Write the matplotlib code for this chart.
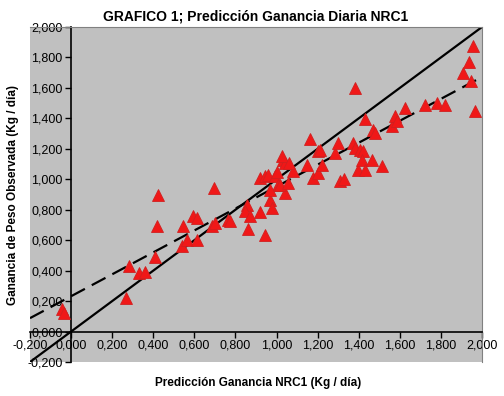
import matplotlib
matplotlib.use("Agg")
import matplotlib.pyplot as plt
import numpy as np
from matplotlib.ticker import FuncFormatter, MultipleLocator

plt.rcParams['font.family'] = ['Liberation Sans', 'DejaVu Sans']

title = "GRAFICO 1; Predicción Ganancia Diaria NRC1"
xlabel = "Predicción Ganancia NRC1 (Kg / día)"
ylabel = "Ganancia de Peso Observada (Kg / día)"

pred = [-0.045, -0.035, 0.268, 0.284, 0.332, 0.36, 0.409, 0.425, 0.417, 0.547,
        0.539, 0.563, 0.595, 0.612, 0.612, 0.696, 0.685, 0.70, 0.765, 0.774,
        0.855, 0.847, 0.871, 0.863, 0.92, 0.944, 0.968, 0.977, 0.92, 0.944,
        0.96, 0.993, 1.007, 0.968, 1.041, 1.033, 1.041, 1.025, 1.017, 1.057,
        1.082, 1.147, 1.179, 1.204, 1.22, 1.204, 1.163, 1.212, 1.285, 1.30,
        1.31, 1.33, 1.374, 1.382, 1.406, 1.423, 1.398, 1.414, 1.464, 1.512,
        1.431, 1.382, 1.431, 1.471, 1.48, 1.56, 1.577, 1.585, 1.625, 1.723,
        1.78, 1.82, 1.909, 1.945, 1.958, 1.937, 1.966, 1.00, 1.06]
obs = [0.145, 0.12, 0.22, 0.433, 0.385, 0.39, 0.49, 0.895, 0.696, 0.696,
       0.565, 0.604, 0.762, 0.747, 0.598, 0.944, 0.69, 0.71, 0.735, 0.724,
       0.834, 0.79, 0.757, 0.674, 0.783, 0.637, 0.867, 0.812, 1.01, 1.02,
       1.031, 1.02, 0.965, 0.932, 0.91, 1.129, 1.108, 1.151, 0.965, 0.976,
       1.052, 1.096, 1.009, 1.042, 1.096, 1.184, 1.265, 1.195, 1.173, 1.239,
       0.99, 1.0, 1.239, 1.206, 1.195, 1.184, 1.064, 1.129, 1.129, 1.085,
       1.064, 1.6, 1.397, 1.326, 1.305, 1.348, 1.414, 1.381, 1.469, 1.49,
       1.5, 1.49, 1.699, 1.643, 1.873, 1.768, 1.446, 1.05, 1.11]

line_x = [-0.2, 2.0]
identity_y = [-0.2, 2.0]
fit_intercept = 0.232
fit_slope = 0.72
fit_y = [fit_intercept + fit_slope * v for v in line_x]

fig = plt.figure(figsize=(5.04, 3.96), dpi=100)
ax = fig.add_axes([30/504, 1 - 362/396, 452/504, 335/396])
ax.set_facecolor('#c0c0c0')

ax.plot(line_x, identity_y, color='black', lw=1.6, zorder=2)
ax.plot(line_x, fit_y, color='black', lw=1.6, dashes=(7, 3.5), zorder=2)
ax.plot(pred, obs, linestyle='none', marker='^', markersize=8.5,
        markerfacecolor='#f01818', markeredgecolor='#d02020', markeredgewidth=0.6, zorder=3)

ax.set_xlim(-0.2, 2.0)
ax.set_ylim(-0.2, 2.0)
ax.xaxis.set_major_locator(MultipleLocator(0.2))
ax.yaxis.set_major_locator(MultipleLocator(0.2))
fmt = FuncFormatter(lambda v, p: f"{v:.3f}".replace('.', ','))
ax.xaxis.set_major_formatter(fmt)
ax.yaxis.set_major_formatter(fmt)

ax.spines['left'].set_position(('data', 0))
ax.spines['bottom'].set_position(('data', 0))
ax.spines['left'].set_linewidth(1.2)
ax.spines['bottom'].set_linewidth(1.2)
for s in ('top', 'right'):
    ax.spines[s].set_color('#808080')
    ax.spines[s].set_linewidth(0.8)

ax.tick_params(axis='both', direction='out', length=4, width=1, labelsize=9, colors='black', pad=2)

ax.set_title(title, fontsize=10, fontweight='bold', pad=5)
fig.text(258/504, 1 - 383/396, xlabel, ha='center', va='center', fontsize=8.5, fontweight='bold')
fig.text(13/504, 1 - 195/396, ylabel, ha='center', va='center', rotation=90, fontsize=8.5, fontweight='bold')

fig.savefig('out.png', dpi=100)
